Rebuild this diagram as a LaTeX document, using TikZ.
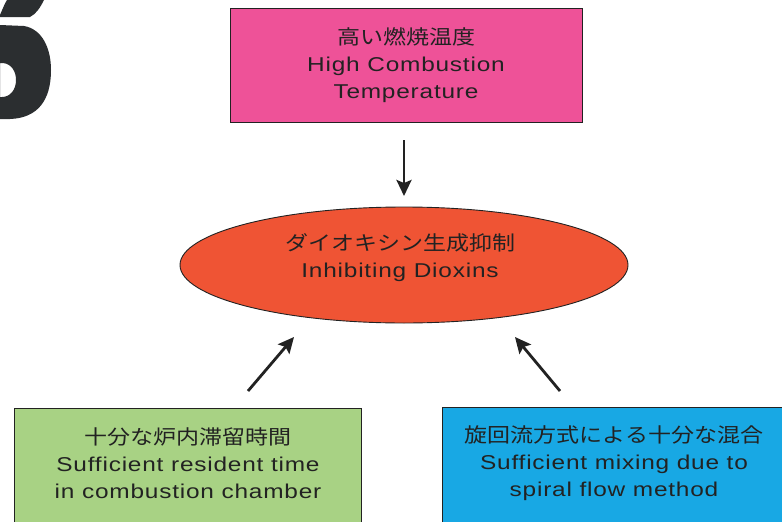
\documentclass[tikz,border=0pt]{standalone}
\usepackage{fontspec}
\setmainfont{Liberation Sans}[FakeStretch=1.22,LetterSpace=4]
\newfontfamily\jp{Noto Sans CJK JP}[FakeStretch=1.15]
\usetikzlibrary{arrows.meta,shapes.geometric}
\definecolor{pinkfill}{RGB}{238,82,152}
\definecolor{redfill}{RGB}{239,84,52}
\definecolor{greenfill}{RGB}{168,210,132}
\definecolor{bluefill}{RGB}{24,168,228}
\definecolor{inkc}{RGB}{34,34,34}
\definecolor{sdark}{RGB}{43,46,48}
\tikzset{
  box/.style={draw=inkc, line width=0.9pt, inner sep=0pt},
  txt/.style={align=center, text=inkc, font=\fontsize{20}{27}\selectfont, inner sep=0pt},
  arr/.style={draw=inkc, line width=2.8pt, -{Stealth[length=16pt,width=15pt,inset=3pt]}},
}
\begin{document}
\begin{tikzpicture}[x=1pt,y=-1pt]
\clip (0,0) rectangle (782,522);
\fill[white] (0,0) rectangle (782,522);
% cropped big letter at top left
\fill[sdark, even odd rule]
  (0,25) -- (24,26) .. controls (42,29) and (51,48) .. (51,70)
  .. controls (51,100) and (38,118) .. (10,119) -- (0,119) -- cycle
  (0,63) -- (3,63) .. controls (12,64) and (16,72) .. (16,80)
  .. controls (16,90) and (10,97) .. (2,97) -- (0,97) -- cycle;
\fill[sdark] (0,15) .. controls (3,8) and (5,3) .. (7,0) -- (44,0) .. controls (40,8) and (36,14) .. (30,17) -- (0,17) -- cycle;
% top box
\node[box, fill=pinkfill, minimum width=352, minimum height=114, txt] (t) at (406,65)
  {{\jp 高い燃焼温度}\\High Combustion\\Temperature};
% ellipse
\node[box, ellipse, fill=redfill, minimum width=448, minimum height=116] (e) at (404,265) {};
\node[txt] (et) at (400,258) {{\jp ダイオキシン生成抑制}\\Inhibiting Dioxins};
% bottom boxes
\node[box, fill=greenfill, anchor=north west, minimum width=347, minimum height=140] (bl) at (14,408) {};
\node[txt] (blt) at (188,463) {{\jp 十分な炉内滞留時間}\\Sufficient resident time\\in combustion chamber};
\node[box, fill=bluefill, anchor=north west, minimum width=360, minimum height=140] (br) at (442,407) {};
\node[txt] (brt) at (614,463) {{\jp 旋回流方式による十分な混合}\\Sufficient mixing due to\\spiral flow method};
% arrows
\coordinate (a1s) at (404,140); \coordinate (a1e) at (404,196);
\coordinate (a2s) at (248,391); \coordinate (a2e) at (294,337);
\coordinate (a3s) at (560,391); \coordinate (a3e) at (515,337);
\draw[arr] (a1s) -- (a1e);
\draw[arr] (a2s) -- (a2e);
\draw[arr] (a3s) -- (a3e);
\end{tikzpicture}
\end{document}
